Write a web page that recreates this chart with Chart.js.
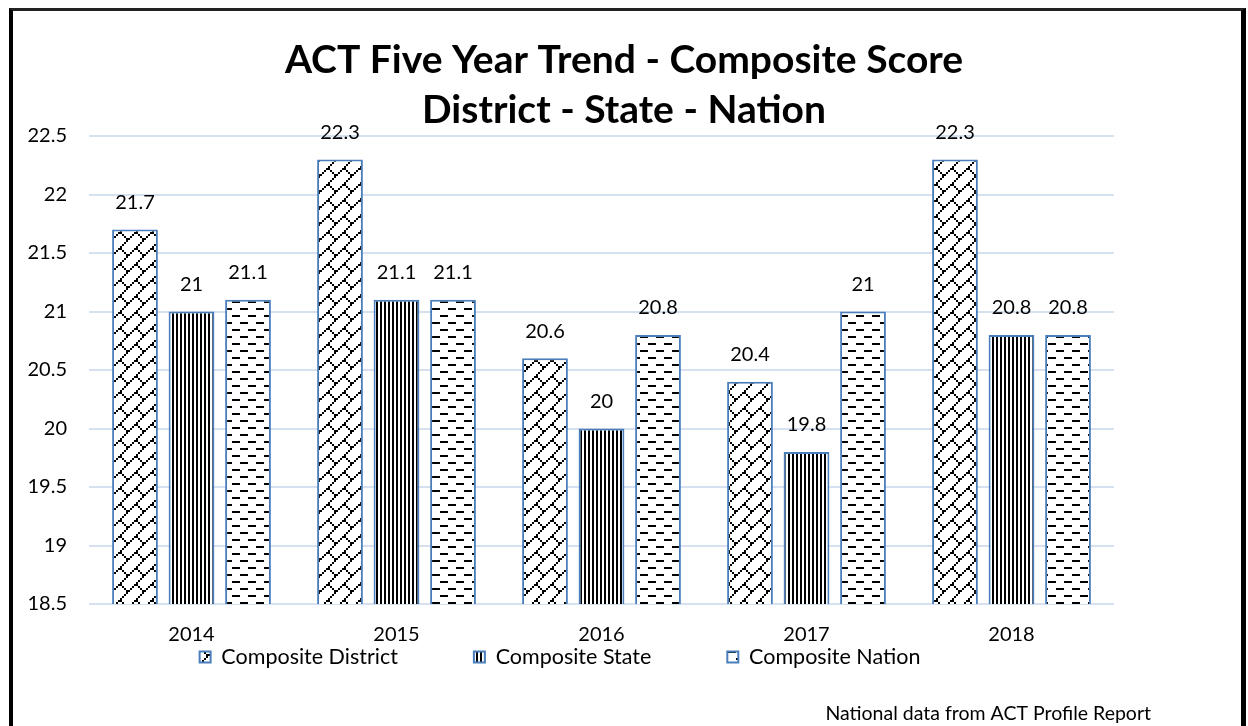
<!DOCTYPE html>
<html>
<head>
<meta charset="utf-8">
<script src="https://cdn.jsdelivr.net/npm/chart.js@4.4.1/dist/chart.umd.min.js"></script>
<style>
  html, body { margin: 0; padding: 0; background: #fff; overflow: hidden; }
  #wrap { position: absolute; left: 0; top: 0; width: 1248px; height: 726px; }
  /* the black frame round the slide; its bottom edge lies below the window */
  #frame {
    position: absolute; left: 9px; top: 8px; width: 1228px; height: 740px;
    border-left: 4px solid #000; border-right: 5px solid #000; border-top: 3px solid #222;
    pointer-events: none;
  }
</style>
</head>
<body>
<div id="wrap"><canvas id="chart" width="1248" height="726"></canvas></div>
<div id="frame"></div>
<script>
const years = ["2014", "2015", "2016", "2017", "2018"]
const districtScores = [21.7, 22.3, 20.6, 20.4, 22.3]
const stateScores = [21, 21.1, 20, 19.8, 20.8]
const nationScores = [21.1, 21.1, 20.8, 21, 20.8]
const seriesNames = ["Composite District", "Composite State", "Composite Nation"]
const titleLines = ["ACT Five Year Trend - Composite Score", "District - State - Nation"]
const footnote = "National data from ACT Profile Report"

const FONT = "Lato"
const TEXT_COLOR = "#000"
const BAR_BORDER = "#4a7ebb"
const GRID_COLOR = "#d5e0f1"
const LABEL_GAP = 27          // value label centre above the bar top
const LEGEND_PADDING = 76     // gap between legend items
const LEGEND_FONT_SIZE = 21.5
const LEGEND_CENTER_X = 560
const LEGEND_BELOW_AXIS = 53  // legend text centre below the plot bottom
const FOOTNOTE_RIGHT = 1151

// Excel-style black-on-white hatch fills (8x8 cells drawn at 2x).
function makePattern(w, h, draw) {
  const c = document.createElement("canvas")
  c.width = w
  c.height = h
  const g = c.getContext("2d")
  g.fillStyle = "#fff"
  g.fillRect(0, 0, w, h)
  g.fillStyle = "#000"
  draw(g)
  return g.createPattern(c, "repeat")
}

const diagonalBrick = makePattern(16, 16, (g) => {
  for (let i = 0; i < 8; i++) g.fillRect(2 * i, 2 * (7 - i), 2, 2)
  for (let i = 4; i < 8; i++) g.fillRect(2 * i, 2 * i, 2, 2)
})
const verticalLines = makePattern(4, 4, (g) => g.fillRect(0, 0, 2, 4))
const dashedHorizontal = makePattern(16, 14, (g) => {
  g.fillRect(0, 0, 8, 2)
  g.fillRect(8, 7, 8, 2)
})

const valueLabels = {
  id: "valueLabels",
  afterDatasetsDraw(chart) {
    const { ctx } = chart
    ctx.save()
    ctx.font = `20px ${FONT}`
    ctx.fillStyle = TEXT_COLOR
    ctx.textAlign = "center"
    ctx.textBaseline = "middle"
    chart.data.datasets.forEach((ds, i) => {
      chart.getDatasetMeta(i).data.forEach((bar, j) => {
        ctx.fillText(String(ds.data[j]), bar.x, bar.y - LABEL_GAP)
      })
    })
    ctx.restore()
  }
}

// Excel places the legend and footnote independently of the plot box, so
// move those two layout boxes after Chart.js has laid things out.
const layoutTweaks = {
  id: "layoutTweaks",
  afterLayout(chart) {
    const lg = chart.legend
    const dx = LEGEND_CENTER_X - (lg.left + lg.right) / 2
    lg.left += dx
    lg.right += dx
    lg.top = chart.chartArea.bottom + LEGEND_BELOW_AXIS - LEGEND_PADDING - LEGEND_FONT_SIZE / 2
    lg.height = LEGEND_PADDING + LEGEND_FONT_SIZE + 10
    lg.bottom = lg.top + lg.height

    const note = chart.boxes.find((b) => b.options && b.options.text === footnote)
    if (note) note.right = FOOTNOTE_RIGHT
  }
}

new Chart(document.getElementById("chart").getContext("2d"), {
  type: "bar",
  plugins: [valueLabels, layoutTweaks],
  data: {
    labels: years,
    datasets: [
      { label: seriesNames[0], data: districtScores, backgroundColor: diagonalBrick },
      { label: seriesNames[1], data: stateScores, backgroundColor: verticalLines },
      { label: seriesNames[2], data: nationScores, backgroundColor: dashedHorizontal }
    ].map((ds) => ({
      ...ds,
      borderColor: BAR_BORDER,
      borderWidth: 2,
      borderSkipped: false,
      categoryPercentage: 0.827,
      barPercentage: 0.81
    }))
  },
  options: {
    responsive: false,
    animation: false,
    devicePixelRatio: 1,
    layout: { padding: 0 },
    plugins: {
      title: {
        display: true,
        text: titleLines,
        color: TEXT_COLOR,
        font: { family: FONT, size: 39, weight: "bold", lineHeight: "50px" },
        padding: { top: 35, bottom: 1 }
      },
      subtitle: {
        display: true,
        position: "bottom",
        align: "end",
        text: footnote,
        color: TEXT_COLOR,
        font: { family: FONT, size: 19.5, lineHeight: "22px" },
        padding: { top: 55, bottom: 1 }
      },
      legend: {
        position: "bottom",
        maxHeight: 1,
        labels: {
          color: TEXT_COLOR,
          font: { family: FONT, size: LEGEND_FONT_SIZE },
          boxWidth: 11,
          boxHeight: 11,
          padding: LEGEND_PADDING
        }
      },
      tooltip: { enabled: false }
    },
    scales: {
      x: {
        grid: { display: false, drawTicks: false },
        border: { display: false },
        afterFit: (axis) => { axis.height = 43 },
        ticks: { color: TEXT_COLOR, font: { family: FONT, size: 20 }, padding: 19 }
      },
      y: {
        min: 18.5,
        max: 22.5,
        grid: { color: GRID_COLOR, lineWidth: 2, drawTicks: false },
        border: { display: false },
        afterFit: (axis) => { axis.width = 89 },
        ticks: {
          stepSize: 0.5,
          padding: 22,
          color: TEXT_COLOR,
          font: { family: FONT, size: 20 },
          callback: (v) => String(Math.round(v * 10) / 10)
        }
      },
      // empty right-hand gutter so the plot ends where Excel's does
      gutter: {
        type: "linear",
        position: "right",
        grid: { display: false },
        border: { display: false },
        ticks: { display: false },
        afterFit: (axis) => { axis.width = 134 }
      }
    }
  }
})
</script>
</body>
</html>
